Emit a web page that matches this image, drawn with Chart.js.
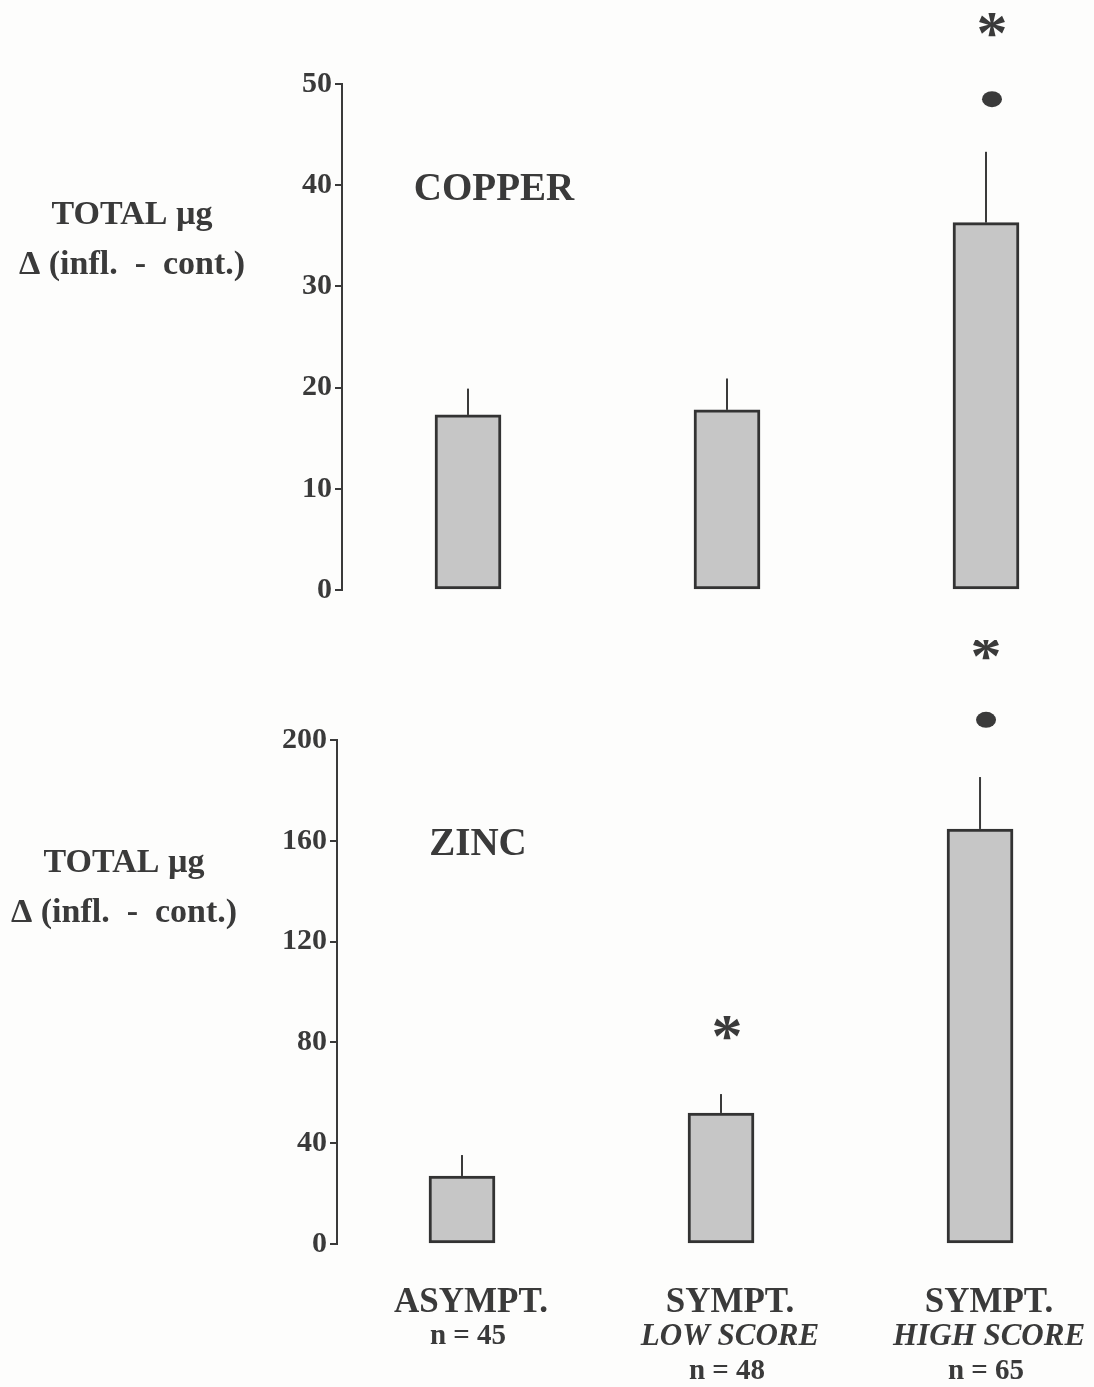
<!DOCTYPE html>
<html>
<head>
<meta charset="utf-8">
<script src="https://cdn.jsdelivr.net/npm/chart.js@4.4.1/dist/chart.umd.min.js"></script>
<style>
  html, body { margin: 0; padding: 0; background: #fdfdfc; overflow: hidden; }
  #wrap { position: relative; width: 1094px; height: 1387px; }
  canvas { position: absolute; left: 0; }
  #copper { top: 0; }
  #zinc { top: 640px; }
</style>
</head>
<body>
<div id="wrap">
  <canvas id="copper" width="1094" height="640"></canvas>
  <canvas id="zinc" width="1094" height="747"></canvas>
</div>
<script>
// groups on the x axis
const categories = ['ASYMPT.', 'SYMPT.', 'SYMPT.'];
const scoreLabels = ['', 'LOW SCORE', 'HIGH SCORE'];
const groupN = [45, 48, 65];

// copper panel (mean, top of SE bar, significance marks)
const copperMean = [17.3, 17.8, 36.3];
const copperErr = [19.9, 20.9, 43.3];
const copperStar = [null, null, 55.8];
const copperDot = [null, null, 48.5];
const copperTicks = [0, 10, 20, 30, 40, 50];

// zinc panel
const zincMean = [27, 52, 164.7];
const zincErr = [35.3, 59.5, 185.3];
const zincStar = [null, 85.7, 236.5];
const zincDot = [null, null, 208];
const zincTicks = [0, 40, 80, 120, 160, 200];

const ink = '#3a3a3a';
const serif = "'Liberation Serif', 'Times New Roman', serif";

// draws error bars, marks and the free texts of one panel
function extrasPlugin(cfg) {
    return {
        id: 'extras',
        beforeDatasetsDraw(chart) {
            const ctx = chart.ctx, xs = chart.scales.x, ys = chart.scales.y;
            ctx.save();
            ctx.strokeStyle = ink;
            ctx.lineWidth = 2;
            cfg.mean.forEach((m, i) => {
                const px = xs.getPixelForValue(i);
                ctx.beginPath();
                ctx.moveTo(px, ys.getPixelForValue(m));
                ctx.lineTo(px, ys.getPixelForValue(cfg.err[i]));
                ctx.stroke();
            });
            ctx.restore();
        },
        afterDraw(chart) {
            const ctx = chart.ctx, xs = chart.scales.x, ys = chart.scales.y;
            ctx.save();
            ctx.fillStyle = ink;

            // stars
            ctx.font = 'bold 62px ' + serif;
            ctx.textAlign = 'center';
            ctx.textBaseline = 'alphabetic';
            const m = ctx.measureText('*');
            const shift = (m.actualBoundingBoxAscent - m.actualBoundingBoxDescent) / 2;
            cfg.star.forEach((v, i) => {
                if (v === null) return;
                ctx.fillText('*', xs.getPixelForValue(i) + 6, ys.getPixelForValue(v) + shift);
            });
            // dots
            cfg.dot.forEach((v, i) => {
                if (v === null) return;
                ctx.beginPath();
                ctx.ellipse(xs.getPixelForValue(i) + 6, ys.getPixelForValue(v), 10, 8, 0, 0, Math.PI * 2);
                ctx.fill();
            });

            // panel name
            ctx.textBaseline = 'middle';
            ctx.font = 'bold 39px ' + serif;
            ctx.fillText(cfg.name, cfg.nameX, cfg.nameY);

            // y title
            ctx.font = 'bold 34px ' + serif;
            ctx.fillText('TOTAL \u00b5g', cfg.titleX, cfg.titleY);
            ctx.fillText('\u0394 (infl.  -  cont.)', cfg.titleX, cfg.titleY + 50);

            // group labels under the bottom panel
            if (cfg.groupLabels) {
                categories.forEach((c, i) => {
                    const px = xs.getPixelForValue(i) + 9;
                    let py = 663;
                    ctx.font = 'bold 35px ' + serif;
                    ctx.fillText(c, px, py);
                    py += 34;
                    if (scoreLabels[i]) {
                        ctx.font = 'italic bold 31px ' + serif;
                        ctx.fillText(scoreLabels[i], px, py);
                        py += 35;
                    }
                    ctx.font = 'bold 29px ' + serif;
                    ctx.fillText('n = ' + groupN[i], px - 3, py);
                });
            }
            ctx.restore();
        }
    };
}

function makeChart(id, mean, ticks, axis, pad, extra) {
    const ctx = document.getElementById(id).getContext('2d');
    return new Chart(ctx, {
        type: 'bar',
        data: {
            datasets: [{
                data: mean.map((v, i) => ({ x: i, y: v })),
                backgroundColor: '#c6c6c6',
                borderColor: '#333333',
                borderWidth: 3,
                borderSkipped: false,
                barThickness: 66,
            }],
        },
        options: {
            responsive: false,
            animation: false,
            layout: { padding: pad },
            plugins: { legend: { display: false }, tooltip: { enabled: false } },
            scales: {
                x: { type: 'linear', display: false, offset: false, min: axis.xMin, max: axis.xMax },
                y: {
                    min: ticks[0],
                    max: ticks[ticks.length - 1],
                    afterBuildTicks: s => { s.ticks = ticks.map(v => ({ value: v })); },
                    afterFit: s => { s.width = axis.left; s.paddingTop = 0; s.paddingBottom = 0; },
                    border: { display: true, color: ink, width: 2 },
                    grid: { drawOnChartArea: false, drawTicks: true, tickLength: 7, color: ink, lineWidth: 2 },
                    ticks: { font: { family: serif, size: 30, weight: 'bold' }, color: ink, padding: 3 },
                },
            },
        },
        plugins: [extrasPlugin(extra)],
    });
}

makeChart('copper', copperMean, copperTicks,
    { left: 342, xMin: -0.4865, xMax: 2.417 },
    { top: 84, bottom: 50, left: 0, right: 0 },
    { mean: copperMean, err: copperErr, star: copperStar, dot: copperDot,
      name: 'COPPER', nameX: 494, nameY: 190, titleX: 132, titleY: 215 });

makeChart('zinc', zincMean, zincTicks,
    { left: 337, xMin: -0.4826, xMax: 2.440 },
    { top: 100, bottom: 143, left: 0, right: 0 },
    { mean: zincMean, err: zincErr, star: zincStar, dot: zincDot,
      name: 'ZINC', nameX: 478, nameY: 205, titleX: 124, titleY: 223, groupLabels: true });
</script>
</body>
</html>
